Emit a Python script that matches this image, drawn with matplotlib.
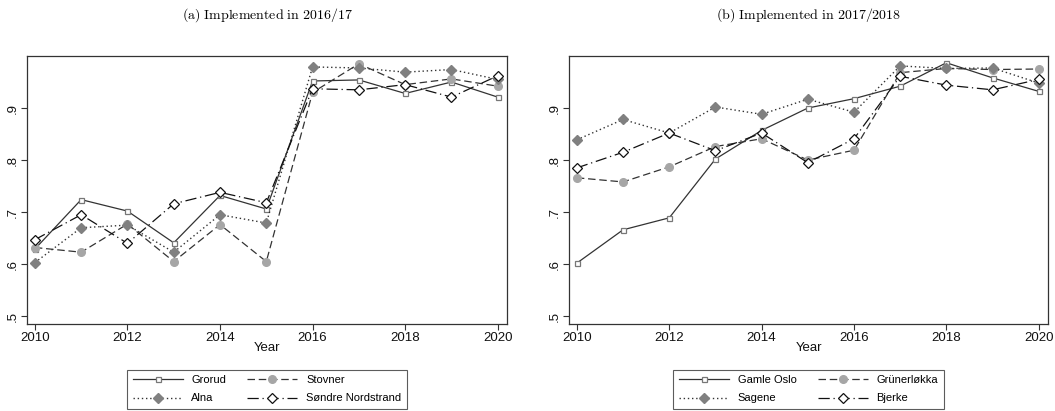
import matplotlib
matplotlib.use("Agg")
import matplotlib.pyplot as plt
from matplotlib.ticker import FuncFormatter

plt.rcParams['font.family'] = ['Liberation Sans', 'DejaVu Sans']
plt.rcParams['mathtext.fontset'] = 'cm'

years = [2010, 2011, 2012, 2013, 2014, 2015, 2016, 2017, 2018, 2019, 2020]

# Panel (a)
grorud = [0.629, 0.724, 0.702, 0.641, 0.732, 0.706, 0.952, 0.954, 0.928, 0.950, 0.921]
stovner = [0.632, 0.623, 0.677, 0.605, 0.676, 0.605, 0.930, 0.985, 0.945, 0.956, 0.942]
alna = [0.603, 0.670, 0.675, 0.623, 0.695, 0.679, 0.979, 0.977, 0.969, 0.974, 0.955]
sondre = [0.647, 0.695, 0.640, 0.716, 0.738, 0.718, 0.937, 0.935, 0.945, 0.921, 0.962]

# Panel (b)
gamle_oslo = [0.602, 0.666, 0.689, 0.802, 0.857, 0.900, 0.918, 0.942, 0.987, 0.958, 0.932]
grunerlokka = [0.766, 0.758, 0.787, 0.826, 0.841, 0.800, 0.819, 0.968, 0.976, 0.974, 0.975]
sagene = [0.839, 0.878, 0.852, 0.902, 0.888, 0.917, 0.892, 0.981, 0.976, 0.977, 0.948]
bjerke = [0.785, 0.815, 0.852, 0.818, 0.852, 0.795, 0.841, 0.961, 0.944, 0.935, 0.955]

titles = [r"$\mathrm{(a)\ Implemented\ in\ 2016/17}$",
          r"$\mathrm{(b)\ Implemented\ in\ 2017/2018}$"]
names_a = ["Grorud", "Stovner", "Alna", "Søndre Nordstrand"]
names_b = ["Gamle Oslo", "Grünerløkka", "Sagene", "Bjerke"]
xticks = [2010, 2012, 2014, 2016, 2018, 2020]
yticks = [0.5, 0.6, 0.7, 0.8, 0.9]

styles = [
    dict(color='#333333', lw=0.9, ls='-', marker='s', ms=3.6, mfc='white', mec='#777777', mew=0.9),
    dict(color='#333333', lw=0.9, ls=(0, (6, 3)), marker='o', ms=5.5, mfc='#a6a6a6', mec='#a6a6a6'),
    dict(color='#333333', lw=1.0, ls=(0, (1, 2)), marker='D', ms=5.2, mfc='#808080', mec='#808080'),
    dict(color='#111111', lw=0.9, ls=(0, (9, 3, 1, 3)), marker='D', ms=5.2, mfc='white', mec='#111111', mew=0.9),
]

fig = plt.figure(figsize=(10.55, 4.11), dpi=100)
W, H = 1055, 411
ax_a = fig.add_axes([27 / W, 1 - 324 / H, 480 / W, 268 / H])
ax_b = fig.add_axes([569 / W, 1 - 324 / H, 479 / W, 268 / H])

fmt = FuncFormatter(lambda v, p: ("%.1f" % v).lstrip("0"))

for ax, series, names, title in [
    (ax_a, [grorud, stovner, alna, sondre], names_a, titles[0]),
    (ax_b, [gamle_oslo, grunerlokka, sagene, bjerke], names_b, titles[1]),
]:
    handles = []
    for s, nm, st in zip(series, names, styles):
        h, = ax.plot(years, s, label=nm, **st)
        handles.append(h)
    ax.set_xlim(2009.83, 2020.2)
    ax.set_ylim(0.485, 1.0)
    ax.set_xticks(xticks)
    ax.set_yticks(yticks)
    ax.yaxis.set_major_formatter(fmt)
    ax.tick_params(axis='both', direction='out', length=4, width=0.8, color='#333333',
                   labelsize=9.5, labelcolor='#111111', pad=2)
    for lab in ax.get_yticklabels():
        lab.set_rotation(90)
        lab.set_va('center')
    for sp in ax.spines.values():
        sp.set_color('#333333')
        sp.set_linewidth(0.9)
    ax.set_xlabel("Year", fontsize=9.5, labelpad=-2, color='#111111')
    pos = ax.get_position()
    cx = pos.x0 + pos.width / 2
    fig.text(cx, 1 - 15 / H, title, ha='center', va='center', fontsize=10)
    order = [0, 2, 1, 3]
    leg = fig.legend([handles[i] for i in order], [names[i] for i in order],
                     loc='upper center', bbox_to_anchor=(cx, 1 - 364 / H),
                     ncol=2, fontsize=8, handlelength=4.5, frameon=True, fancybox=False,
                     edgecolor='#333333', borderpad=0.5, columnspacing=1.9, labelspacing=0.75,
                     handletextpad=0.8)
    leg.get_frame().set_linewidth(0.8)

fig.savefig("out.png", dpi=100)
